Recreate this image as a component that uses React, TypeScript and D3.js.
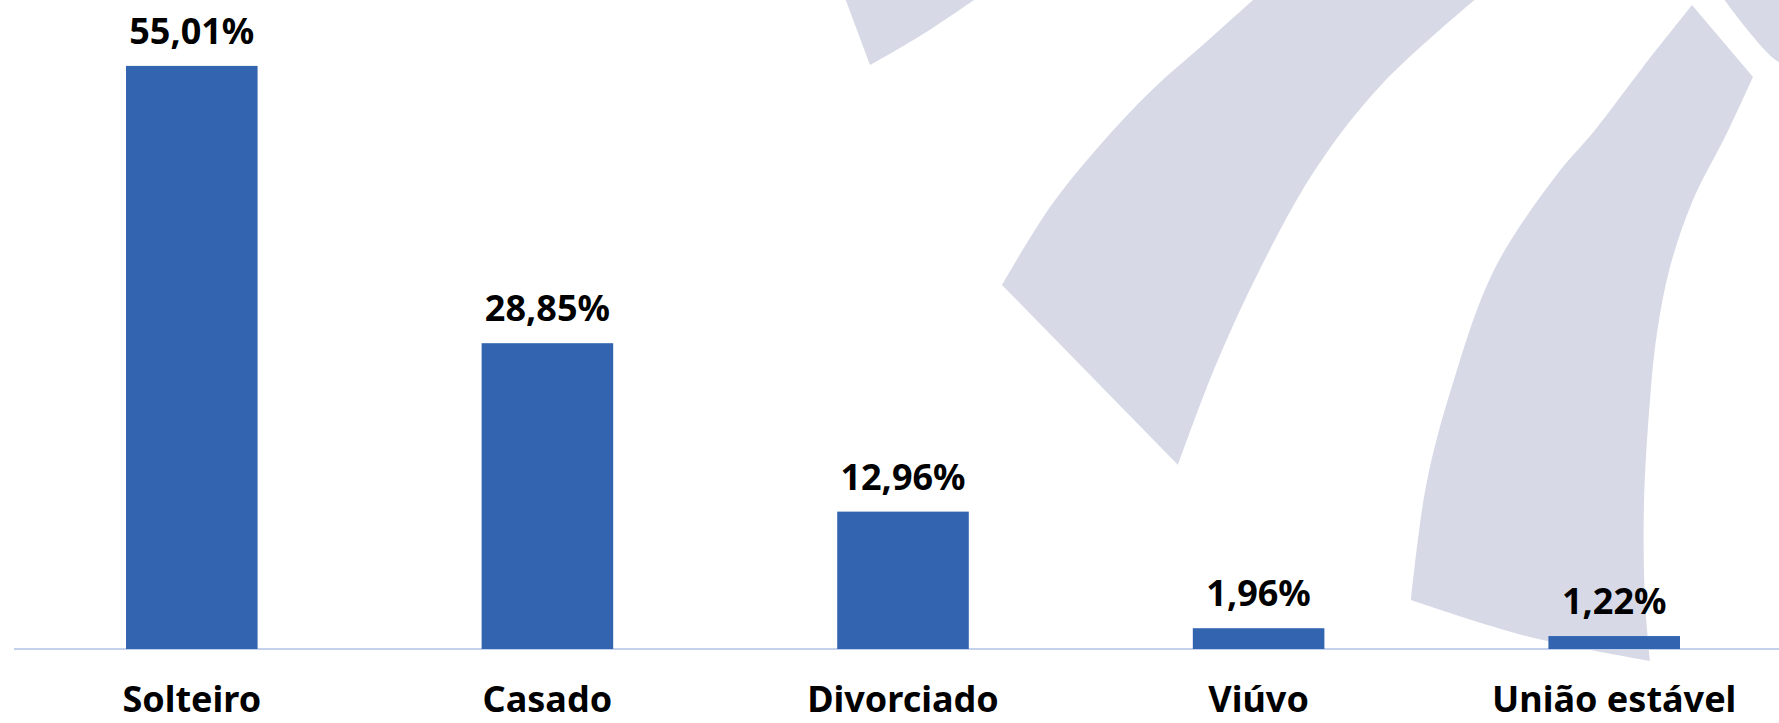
import React from 'react';
import * as d3 from 'd3';

const categories = ['Solteiro', 'Casado', 'Divorciado', 'Viúvo', 'União estável'];
const percentValues = [55.01, 28.85, 12.96, 1.96, 1.22];
const yDomainMax = 60;

const WIDTH = 1779;
const HEIGHT = 723;
const BASE_Y = 649;

// faint logo in the background (decoration).
// each shape is a list of edges; each edge is smoothed on its own so corners stay sharp
type Pt = [number, number];
const decoShapes: Pt[][][] = [
    [
        [
            [845, -2],
            [870, 65],
        ],
        [
            [870, 65],
            [920, 36],
            [977, -2],
        ],
    ],
    [
        [
            [1262, -8],
            [1484, -8],
        ],
        [
            [1484, -8],
            [1383, 83],
            [1317, 167],
            [1262, 265],
            [1215, 367],
            [1178, 465],
        ],
        [
            [1178, 465],
            [1002, 285],
        ],
        [
            [1002, 285],
            [1050, 207],
            [1100, 145],
            [1153, 89],
            [1205, 43],
            [1262, -8],
        ],
    ],
    [
        [
            [1692, 5],
            [1753, 77],
        ],
        [
            [1753, 77],
            [1727, 133],
            [1693, 200],
            [1670, 267],
            [1657, 333],
            [1650, 400],
            [1644, 503],
            [1645, 600],
            [1650, 661],
        ],
        [
            [1650, 661],
            [1526, 636],
            [1411, 600],
        ],
        [
            [1411, 600],
            [1426, 486],
            [1452, 386],
            [1494, 270],
            [1555, 177],
            [1595, 130],
            [1643, 67],
            [1692, 5],
        ],
    ],
    [
        [
            [1723, -2],
            [1781, -2],
            [1781, 62],
            [1723, -2],
        ],
    ],
];

const fmt = (v: number) => d3.format('.2f')(v).replace('.', ',') + '%';

const edgeLine = d3.line().curve(d3.curveCatmullRom.alpha(0.5));
const shapePath = (edges: Pt[][]) =>
    edges
        .map((e, i) => {
            const d = edgeLine(e) || '';
            return i === 0 ? d : 'L' + d.slice(1);
        })
        .join('') + 'Z';

const App = () => {
    const x = d3
        .scaleBand<string>()
        .domain(categories)
        .range([14, 1792])
        .paddingInner(0.63)
        .paddingOuter(0.315);
    const y = d3.scaleLinear().domain([0, yDomainMax]).range([BASE_Y, 13]);

    return (
        <svg
            width={WIDTH}
            height={HEIGHT}
            style={{ position: 'absolute', left: 0, top: 0, display: 'block', background: '#ffffff' }}
            fontFamily="'Noto Sans', 'Open Sans', sans-serif"
        >
            <g fill="#d7dae6">
                {decoShapes.map((edges, i) => (
                    <path key={i} d={shapePath(edges)} />
                ))}
            </g>
            <line x1={14} x2={WIDTH} y1={BASE_Y} y2={BASE_Y} stroke="#c3d1ec" strokeWidth={2} />
            {categories.map((c, i) => {
                const v = percentValues[i];
                const bx = x(c) ?? 0;
                const cx = bx + x.bandwidth() / 2;
                return (
                    <g key={c}>
                        <rect
                            x={bx}
                            y={y(v)}
                            width={x.bandwidth()}
                            height={y(0) - y(v)}
                            fill="#3364af"
                        />
                        <text
                            x={cx}
                            y={y(v) - 22}
                            textAnchor="middle"
                            fontSize={36}
                            fontWeight={700}
                            fill="#000"
                        >
                            {fmt(v)}
                        </text>
                        <text
                            x={cx}
                            y={712}
                            textAnchor="middle"
                            fontSize={36}
                            fontWeight={700}
                            fill="#000"
                        >
                            {c}
                        </text>
                    </g>
                );
            })}
        </svg>
    );
};

export default App;
